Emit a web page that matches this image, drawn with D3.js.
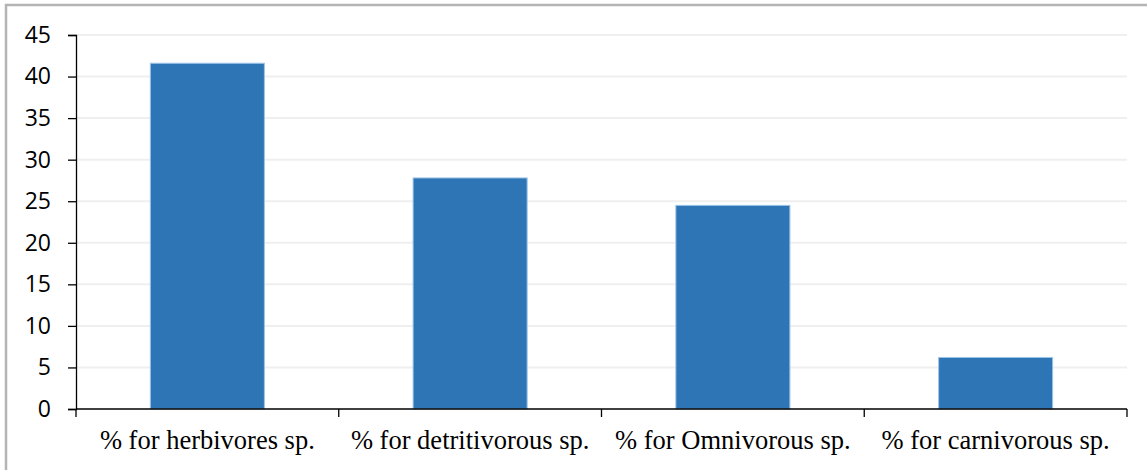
<!DOCTYPE html>
<html lang="en">
<head>
  <meta charset="UTF-8">
  <title>Feeding groups</title>
  <script src="https://d3js.org/d3.v7.min.js"></script>
  <style>
    body, html { margin: 0; padding: 0; background: #fff; overflow: hidden; }
    svg { display: block; }
  </style>
</head>
<body>
  <div id="chart"></div>
  <script>
    // Data
    const categories = ['% for herbivores sp.', '% for detritivorous sp.', '% for Omnivorous sp.', '% for carnivorous sp.'];
    const values = [41.6, 27.8, 24.5, 6.2];
    const yTicks = [0, 5, 10, 15, 20, 25, 30, 35, 40, 45];

    const width = 1147, height = 470;
    const margin = { top: 35, right: 20, bottom: 61, left: 76 };

    const svg = d3.select('#chart').append('svg')
      .attr('width', width)
      .attr('height', height);

    // outer frame (only left and top edges are visible in the original crop)
    svg.append('rect')
      .attr('x', 6).attr('y', 5)
      .attr('width', width + 10).attr('height', height + 10)
      .attr('fill', 'none')
      .attr('stroke', '#b4b4b4')
      .attr('stroke-width', 2.5);

    const x = d3.scaleBand()
      .domain(categories)
      .range([margin.left, width - margin.right])
      .paddingInner(0.566)
      .paddingOuter(0.283);

    const y = d3.scaleLinear()
      .domain([0, 45])
      .range([height - margin.bottom, margin.top]);

    // gridlines
    svg.append('g')
      .selectAll('line')
      .data(yTicks.filter(d => d > 0))
      .join('line')
      .attr('x1', margin.left)
      .attr('x2', width - margin.right)
      .attr('y1', d => y(d))
      .attr('y2', d => y(d))
      .attr('stroke', '#efefef')
      .attr('stroke-width', 2);

    // bars
    svg.append('g')
      .selectAll('rect')
      .data(values)
      .join('rect')
      .attr('x', (d, i) => x(categories[i]))
      .attr('y', d => y(d))
      .attr('width', x.bandwidth())
      .attr('height', d => y(0) - y(d))
      .attr('fill', '#2e75b6')
      .attr('stroke', '#9dc3e6')
      .attr('stroke-width', 1);

    // y axis
    const yAxis = svg.append('g')
      .attr('transform', `translate(${margin.left},0)`)
      .call(d3.axisLeft(y).tickValues(yTicks).tickSize(8).tickPadding(17));
    yAxis.attr('font-size', null).attr('font-family', null);
    yAxis.select('.domain').attr('stroke', '#000').attr('stroke-width', 1.3);
    yAxis.selectAll('.tick line').attr('stroke', '#000').attr('stroke-width', 1.3);
    yAxis.selectAll('text')
      .style('font-family', '"Open Sans", "Noto Sans", sans-serif')
      .style('font-size', '23px')
      .attr('fill', '#000');

    // x axis: ticks at band boundaries
    const base = y(0);
    svg.append('line')
      .attr('x1', margin.left).attr('x2', width - margin.right)
      .attr('y1', base).attr('y2', base)
      .attr('stroke', '#000').attr('stroke-width', 1.3);

    const bounds = categories.map(c => x(c) - x.step() * x.paddingInner() / 2);
    bounds.push(width - margin.right);
    bounds[0] = margin.left;
    svg.append('g')
      .selectAll('line')
      .data(bounds)
      .join('line')
      .attr('x1', d => d).attr('x2', d => d)
      .attr('y1', base).attr('y2', base + 8)
      .attr('stroke', '#000').attr('stroke-width', 1.3);

    svg.append('g')
      .selectAll('text')
      .data(categories)
      .join('text')
      .attr('x', d => x(d) + x.bandwidth() / 2)
      .attr('y', 449)
      .attr('text-anchor', 'middle')
      .style('font-family', '"Liberation Serif", "Times New Roman", serif')
      .style('font-size', '26.5px')
      .attr('fill', '#000')
      .text(d => d);
  </script>
</body>
</html>
